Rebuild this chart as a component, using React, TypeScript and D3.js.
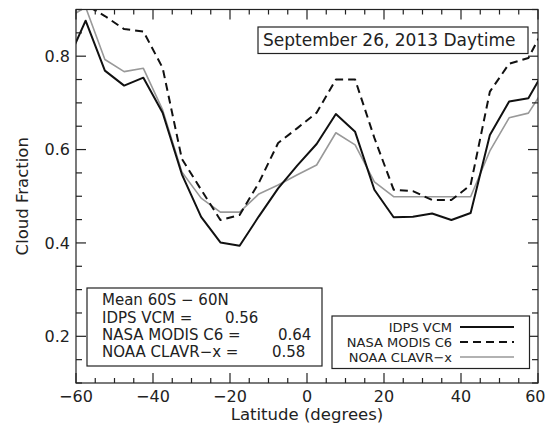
import React, { useEffect, useRef } from "react";
import * as d3 from "d3";

// bin centres, 5 degree bins (outer two fall outside the axis and get clipped)
const latitudes = [
  -62.5, -57.5, -52.5, -47.5, -42.5, -37.5, -32.5, -27.5, -22.5, -17.5, -12.5, -7.5, -2.5,
  2.5, 7.5, 12.5, 17.5, 22.5, 27.5, 32.5, 37.5, 42.5, 47.5, 52.5, 57.5, 62.5,
];
const idpsVcm = [
  0.784, 0.876, 0.769, 0.737, 0.754, 0.679, 0.547, 0.456, 0.401, 0.394, 0.457, 0.517, 0.566,
  0.612, 0.676, 0.638, 0.514, 0.455, 0.456, 0.463, 0.449, 0.464, 0.631, 0.703, 0.71, 0.782,
];
const nasaModis = [
  0.93, 0.91, 0.886, 0.858, 0.853, 0.775, 0.58, 0.514, 0.449, 0.46, 0.529, 0.614, 0.646,
  0.679, 0.75, 0.75, 0.625, 0.514, 0.511, 0.492, 0.492, 0.524, 0.724, 0.784, 0.796, 0.875,
];
const noaaClavr = [
  0.88, 0.905, 0.793, 0.767, 0.774, 0.685, 0.552, 0.496, 0.466, 0.466, 0.505, 0.524, 0.546,
  0.567, 0.636, 0.61, 0.531, 0.499, 0.499, 0.499, 0.499, 0.499, 0.597, 0.668, 0.678, 0.742,
];

const seriesNames = ["IDPS VCM", "NASA MODIS C6", "NOAA CLAVR\u2212x"];
const meanLabels = ["IDPS VCM =", "NASA MODIS C6 =", "NOAA CLAVR\u2212x ="];
const meanValues = ["0.56", "0.64", "0.58"];
const xMajorTicks = [-60, -40, -20, 0, 20, 40, 60];
const yMajorTicks = [0.2, 0.4, 0.6, 0.8];

const W = 546;
const H = 429;
const margin = { top: 9.5, right: 8, bottom: 46, left: 76 };
const font = "'DejaVu Sans', sans-serif";
const ink = "#222";

const styles = [
  { color: "#111", width: 2, dash: null },
  { color: "#111", width: 2, dash: "8,5" },
  { color: "#999", width: 1.6, dash: null },
];

const fmtLat = (d) => (d < 0 ? "\u2212" + Math.abs(d) : String(d));

const App = () => {
  const svgRef = useRef(null);

  useEffect(() => {
    const svg = d3.select(svgRef.current);
    svg.selectAll("*").remove();

    const x0 = margin.left;
    const x1 = W - margin.right;
    const y0 = margin.top;
    const y1 = H - margin.bottom;

    const x = d3.scaleLinear().domain([-60, 60]).range([x0, x1]);
    const y = d3.scaleLinear().domain([0.1, 0.9]).range([y1, y0]);

    svg.append("rect").attr("width", W).attr("height", H).attr("fill", "#fff");

    svg.append("clipPath").attr("id", "plotclip")
      .append("rect")
      .attr("x", x0).attr("y", y0).attr("width", x1 - x0).attr("height", y1 - y0);

    // series
    const line = d3.line().x((d) => x(d[0])).y((d) => y(d[1]));
    const all = [idpsVcm, nasaModis, noaaClavr];
    // draw gray first so black sits on top
    [2, 1, 0].forEach((i) => {
      svg.append("path")
        .datum(latitudes.map((lat, j) => [lat, all[i][j]]))
        .attr("d", line)
        .attr("fill", "none")
        .attr("stroke", styles[i].color)
        .attr("stroke-width", styles[i].width)
        .attr("stroke-dasharray", styles[i].dash)
        .attr("stroke-linejoin", "round")
        .attr("clip-path", "url(#plotclip)");
    });

    // frame + inward ticks on all four sides
    const g = svg.append("g").attr("stroke", ink).attr("stroke-width", 1.2);
    g.append("rect")
      .attr("x", x0).attr("y", y0).attr("width", x1 - x0).attr("height", y1 - y0)
      .attr("fill", "none");

    x.ticks(24).forEach((t) => {
      const len = xMajorTicks.includes(t) ? 10 : 5;
      g.append("line").attr("x1", x(t)).attr("x2", x(t)).attr("y1", y1).attr("y2", y1 - len);
      g.append("line").attr("x1", x(t)).attr("x2", x(t)).attr("y1", y0).attr("y2", y0 + len);
    });
    y.ticks(16).forEach((t) => {
      const major = yMajorTicks.some((m) => Math.abs(m - t) < 1e-6);
      const len = major ? 10 : 6;
      g.append("line").attr("x1", x0).attr("x2", x0 + len).attr("y1", y(t)).attr("y2", y(t));
      g.append("line").attr("x1", x1).attr("x2", x1 - len).attr("y1", y(t)).attr("y2", y(t));
    });

    const txt = svg.append("g").attr("font-family", font).attr("fill", ink);

    xMajorTicks.forEach((t, i) => {
      const last = i === xMajorTicks.length - 1;
      txt.append("text")
        .attr("x", last ? W - 0.5 : x(t)).attr("y", 402)
        .attr("text-anchor", last ? "end" : "middle").attr("font-size", 16)
        .text(fmtLat(t));
    });
    yMajorTicks.forEach((t) => {
      txt.append("text")
        .attr("x", 70).attr("y", y(t)).attr("dy", "0.36em")
        .attr("text-anchor", "end").attr("font-size", 16)
        .text(d3.format(".1f")(t));
    });

    txt.append("text")
      .attr("x", (x0 + x1) / 2).attr("y", 420)
      .attr("text-anchor", "middle").attr("font-size", 16.5)
      .text("Latitude (degrees)");
    txt.append("text")
      .attr("transform", `translate(28,${(y0 + y1) / 2}) rotate(-90)`)
      .attr("text-anchor", "middle").attr("font-size", 16.5)
      .text("Cloud Fraction");

    // date box
    svg.append("rect")
      .attr("x", 258).attr("y", 27).attr("width", 270).attr("height", 26.5)
      .attr("fill", "#fff").attr("stroke", ink).attr("stroke-width", 1.2);
    svg.append("text")
      .attr("x", 263).attr("y", 45.5)
      .attr("font-family", font).attr("font-size", 17).attr("fill", ink)
      .text("September 26, 2013 Daytime");

    // mean box
    svg.append("rect")
      .attr("x", 87).attr("y", 288).attr("width", 235).attr("height", 78)
      .attr("fill", "#fff").attr("stroke", ink).attr("stroke-width", 1.2);
    const meanRows = [305, 322.5, 339.5, 356.5];
    const valueX = [225, 278, 272];
    const mt = svg.append("g").attr("font-family", font).attr("fill", ink).attr("font-size", 15);
    mt.append("text").attr("x", 102).attr("y", meanRows[0]).text("Mean 60S \u2212 60N");
    meanLabels.forEach((lab, i) => {
      mt.append("text").attr("x", 102).attr("y", meanRows[i + 1]).text(lab);
      mt.append("text").attr("x", valueX[i]).attr("y", meanRows[i + 1]).text(meanValues[i]);
    });

    // legend
    svg.append("rect")
      .attr("x", 332).attr("y", 316).attr("width", 197.5).attr("height", 52.5)
      .attr("fill", "#fff").attr("stroke", ink).attr("stroke-width", 1.2);
    const legRows = [331.5, 346.5, 361.5];
    seriesNames.forEach((name, i) => {
      svg.append("text")
        .attr("x", 452).attr("y", legRows[i])
        .attr("text-anchor", "end").attr("font-family", font)
        .attr("font-size", 13).attr("fill", ink)
        .text(name);
      svg.append("line")
        .attr("x1", 460).attr("x2", 514)
        .attr("y1", legRows[i] - 4.5).attr("y2", legRows[i] - 4.5)
        .attr("stroke", styles[i].color)
        .attr("stroke-width", styles[i].width)
        .attr("stroke-dasharray", styles[i].dash);
    });
  }, []);

  return (
    <svg
      ref={svgRef}
      width={W}
      height={H}
      style={{ position: "absolute", left: 0, top: 0 }}
    />
  );
};

export default App;
